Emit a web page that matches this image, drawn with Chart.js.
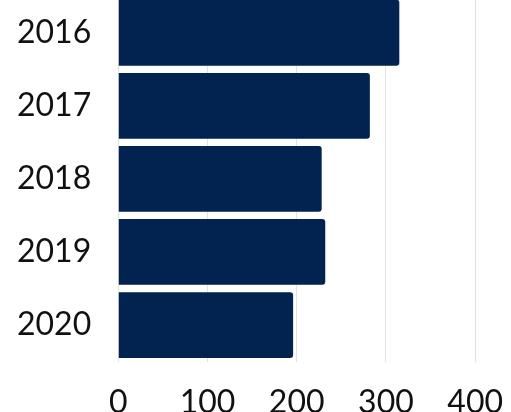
<!DOCTYPE html>
<html>
<head>
<meta charset="utf-8">
<script src="https://cdn.jsdelivr.net/npm/chart.js@4"></script>
<style>
	html, body { margin: 0; padding: 0; background: #fff; overflow: hidden; }
	/* the reference is a crop of a bigger chart, so the canvas hangs over the page edges */
	#wrap { position: absolute; left: -10px; top: -50px; width: 535px; height: 494px; }
</style>
</head>
<body>
<div id="wrap"><canvas id="chart"></canvas></div>
<script>
// data
const years = ["2016", "2017", "2018", "2019", "2020"];
const values = [315, 282, 228, 232, 196];
const xTicks = [0, 100, 200, 300, 400];

const barColor = "#022350";
const labelFont = { family: "Lato", size: 32 };

const ctx = document.getElementById("chart");
new Chart(ctx, {
	type: "bar",
	data: {
		labels: years,
		datasets: [{
			data: values,
			backgroundColor: barColor,
			borderRadius: 3,
			borderSkipped: "start",
			categoryPercentage: 0.9,
			barPercentage: 1,
		}],
	},
	options: {
		indexAxis: "y",
		responsive: true,
		maintainAspectRatio: false,
		animation: false,
		layout: { padding: 0 },
		plugins: { legend: { display: false }, tooltip: { enabled: false } },
		scales: {
			x: {
				min: 0,
				max: 400,
				afterBuildTicks: (axis) => { axis.ticks = xTicks.map((v) => ({ value: v })); },
				grid: { color: "#e2e2e2", drawTicks: false },
				border: { display: false },
				ticks: { color: "#111", font: labelFont, padding: 22 },
			},
			y: {
				grid: { display: false, drawTicks: false },
				border: { display: false },
				ticks: { color: "#111", font: labelFont, padding: 27 },
			},
		},
	},
});
</script>
</body>
</html>
